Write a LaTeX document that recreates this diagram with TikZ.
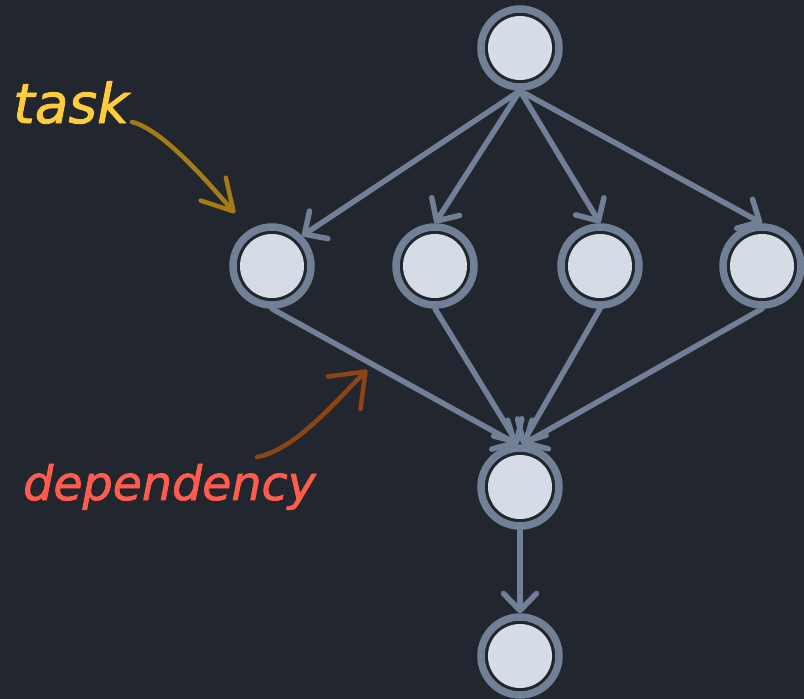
\documentclass[tikz,border=0pt]{standalone}
\usepackage{fontspec}
\newfontfamily\annfont[ItalicFeatures={FakeBold=1.5}]{DejaVu Sans}
\usetikzlibrary{arrows.meta}
\definecolor{bg}{HTML}{22262E}
\definecolor{ring}{HTML}{718096}
\definecolor{core}{HTML}{D6DCE6}
\definecolor{taskyellow}{HTML}{FFCC3D}
\definecolor{depred}{HTML}{FF5C4D}
\definecolor{taskarrow}{HTML}{A47C13}
\definecolor{deparrow}{HTML}{8D4516}
\tikzset{
  tasknode/.style={circle, draw=ring, line width=7.5pt, fill=bg, minimum size=78pt, inner sep=0pt,
    path picture={\fill[core] (path picture bounding box.center) circle[radius=32pt];}},
  link/.style={draw=ring, line width=5.5pt, line cap=round,
    -{Straight Barb[length=17pt,width=33pt,round]}},
  note/.style={line width=4.5pt, line cap=round},
}
\begin{document}
\begin{tikzpicture}[x=1pt,y=-1pt]
\fill[bg] (0,0) rectangle (804,699);
\useasboundingbox (0,0) rectangle (804,699);

% task nodes
\node[tasknode] (top) at (520,48) {};
\node[tasknode] (n1) at (272,266) {};
\node[tasknode] (n2) at (435,266) {};
\node[tasknode] (n3) at (600,266) {};
\node[tasknode] (n4) at (762,266) {};
\node[tasknode] (mid) at (520,487) {};
\node[tasknode] (bot) at (520,656) {};

% dependencies
\draw[link] (top.south) -- (n1.north east);
\draw[link] (top.south) -- (n2.north);
\draw[link] (top.south) -- (n3.north);
\draw[link] (top.south) -- (n4.north);
\draw[link] (n1.south) -- ([xshift=-3pt]mid.north);
\draw[link] (n2.south) -- ([xshift=-2pt]mid.north);
\draw[link] (n3.south) -- ([xshift=2pt]mid.north);
\draw[link] (n4.south) -- ([xshift=3pt]mid.north);
\draw[link] (mid.south) -- (bot.north);

% annotations
\node[anchor=base west, inner sep=0pt, text=taskyellow,
  font=\annfont\itshape\fontsize{55}{62}\selectfont] (tasklbl) at (13,123) {task};
\node[anchor=base west, inner sep=0pt, text=depred,
  font=\annfont\itshape\fontsize{47.5}{55}\selectfont] (deplbl) at (23,500) {dependency};

\coordinate (taskfrom) at (132,122);
\coordinate (taskto) at (235,213);
\coordinate (depfrom) at (257,457);
\coordinate (depto) at (367,370);

\draw[note, draw=taskarrow, -{Straight Barb[length=30pt,width=34pt,round]}]
  (taskfrom) .. controls (165,130) and (215,191) .. (taskto);
\draw[note, draw=deparrow, -{Straight Barb[length=30pt,width=46pt,round]}]
  (depfrom) .. controls (295,450) and (335,402) .. (depto);
\end{tikzpicture}
\end{document}
